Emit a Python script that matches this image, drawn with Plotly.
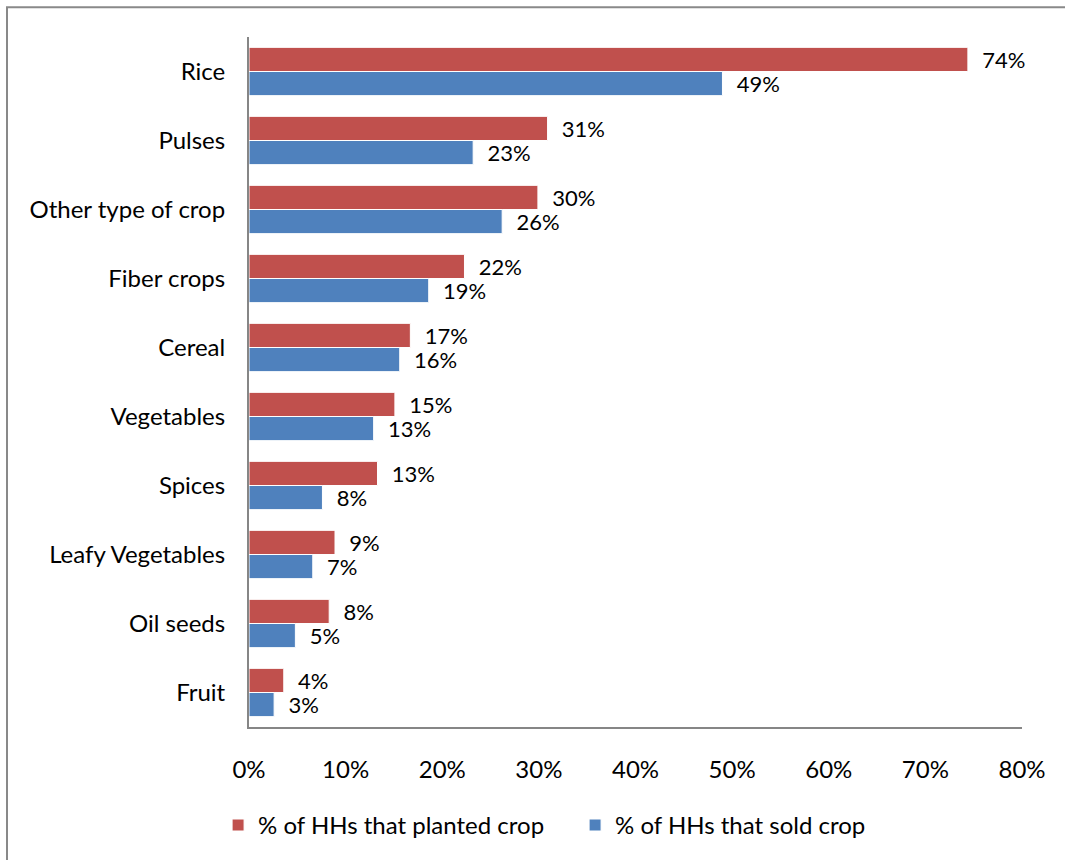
import plotly.graph_objects as go

categories = ["Rice", "Pulses", "Other type of crop", "Fiber crops", "Cereal",
              "Vegetables", "Spices", "Leafy Vegetables", "Oil seeds", "Fruit"]
planted = [0.744, 0.309, 0.299, 0.223, 0.167, 0.151, 0.133, 0.089, 0.083, 0.036]
sold = [0.490, 0.232, 0.262, 0.186, 0.156, 0.129, 0.076, 0.066, 0.048, 0.026]
series_names = ["% of HHs that planted crop", "% of HHs that sold crop"]
x_ticks = [0, 0.1, 0.2, 0.3, 0.4, 0.5, 0.6, 0.7, 0.8]

FONT = "Lato"
FS = 24
RED = "#C0504D"
BLUE = "#4F81BD"

fig = go.Figure()
for name, vals, col in [(series_names[0], planted, RED), (series_names[1], sold, BLUE)]:
    fig.add_trace(go.Bar(
        y=categories, x=vals, name=name, orientation="h",
        marker=dict(color=col, line=dict(color="white", width=1)),
        texttemplate="\u00a0\u00a0%{x:.0%}", textposition="outside",
        textfont=dict(family=FONT, size=22, color="black"),
        constraintext="none",
        cliponaxis=False,
    ))

L, R, T, B = 249, 43, 37, 125
W, H = 1065, 860
pw = W - L - R
ph = H - T - B
bx = (7 - L) / pw
by = 1 + (T - 7) / ph

fig.update_layout(
    width=W, height=H,
    margin=dict(l=L, r=R, t=T, b=B),
    barmode="group", bargap=0.3, bargroupgap=0.0,
    plot_bgcolor="white", paper_bgcolor="white",
    font=dict(family=FONT, size=FS, color="black"),
    showlegend=True,
    legend=dict(orientation="h", x=-0.040, xanchor="left", y=-0.11, yanchor="top",
                font=dict(family=FONT, size=FS), itemwidth=30, entrywidth=312,
                traceorder="normal"),
    xaxis=dict(range=[0, 0.8], tickvals=x_ticks, tickformat=".0%",
               showgrid=False, zeroline=False, showline=True, linecolor="#868686",
               linewidth=2, ticks="", ticklabelstandoff=20),
    yaxis=dict(autorange="reversed", showgrid=False, zeroline=False, showline=True,
               linecolor="#868686", linewidth=2, ticks="", ticklabelstandoff=17),
    shapes=[dict(type="path", xref="paper", yref="paper",
                 path=f"M {bx},-0.3 L {bx},{by} L 1.2,{by}",
                 line=dict(color="#898989", width=2))],
)

fig.write_html("out.html", config={"displayModeBar": False},
               post_script="document.body.style.margin='0';")
